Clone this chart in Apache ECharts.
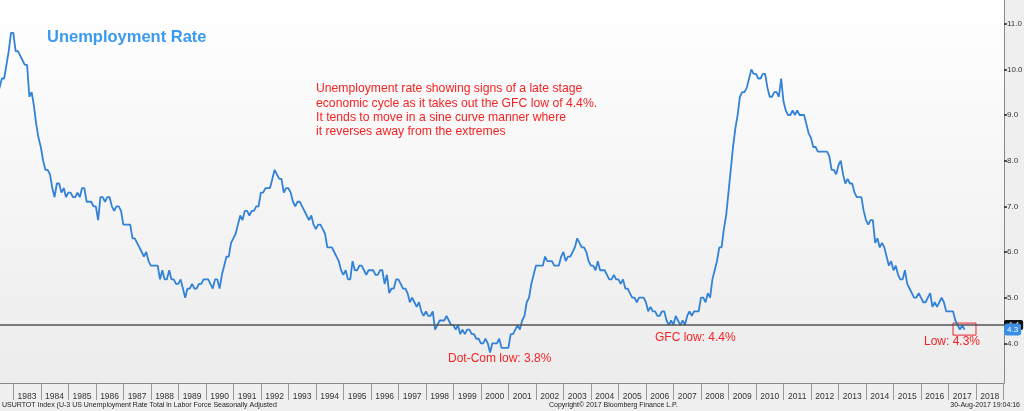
<!DOCTYPE html>
<html>
<head>
<meta charset="utf-8">
<script src="https://cdn.jsdelivr.net/npm/echarts@6/dist/echarts.min.js"></script>
<style>
html,body{margin:0;padding:0;background:#efefef;}
#chart{width:1024px;height:411px;}
</style>
</head>
<body>
<div id="chart"></div>
<script>
// Monthly US U-3 unemployment rate, starting May 1982
const startYear = 1982;
const startMonth = 4; // 0-based: May
const rateValues = [
  9.4, 9.6, 9.8, 9.8, 10.1, 10.4, 10.8, 10.8,
  10.4, 10.4, 10.3, 10.2, 10.1, 10.1, 9.4, 9.5, 9.2, 8.8, 8.5, 8.3,
  8.0, 7.8, 7.8, 7.7, 7.4, 7.2, 7.5, 7.5, 7.3, 7.4, 7.2, 7.3,
  7.3, 7.2, 7.2, 7.3, 7.2, 7.4, 7.4, 7.1, 7.1, 7.1, 7.0, 7.0,
  6.7, 7.2, 7.2, 7.1, 7.2, 7.2, 7.0, 6.9, 7.0, 7.0, 6.9, 6.6,
  6.6, 6.6, 6.6, 6.3, 6.3, 6.2, 6.1, 6.0, 5.9, 6.0, 5.8, 5.7,
  5.7, 5.7, 5.7, 5.4, 5.6, 5.4, 5.4, 5.6, 5.4, 5.4, 5.3, 5.3,
  5.4, 5.2, 5.0, 5.2, 5.2, 5.3, 5.2, 5.2, 5.3, 5.3, 5.4, 5.4,
  5.4, 5.3, 5.2, 5.4, 5.4, 5.2, 5.5, 5.7, 5.9, 5.9, 6.2, 6.3,
  6.4, 6.6, 6.8, 6.7, 6.9, 6.9, 6.8, 6.9, 6.9, 7.0, 7.0, 7.3,
  7.3, 7.4, 7.4, 7.4, 7.6, 7.8, 7.7, 7.6, 7.6, 7.3, 7.4, 7.4,
  7.3, 7.1, 7.0, 7.1, 7.1, 7.0, 6.9, 6.8, 6.7, 6.8, 6.6, 6.5,
  6.6, 6.6, 6.5, 6.4, 6.1, 6.1, 6.1, 6.0, 5.9, 5.8, 5.6, 5.5,
  5.6, 5.4, 5.4, 5.8, 5.6, 5.6, 5.7, 5.7, 5.6, 5.5, 5.6, 5.6,
  5.6, 5.5, 5.5, 5.6, 5.6, 5.3, 5.5, 5.1, 5.2, 5.2, 5.4, 5.4,
  5.3, 5.2, 5.2, 5.1, 4.9, 5.0, 4.9, 4.8, 4.9, 4.7, 4.6, 4.7,
  4.6, 4.6, 4.7, 4.3, 4.4, 4.5, 4.5, 4.5, 4.6, 4.5, 4.4, 4.4,
  4.3, 4.4, 4.2, 4.3, 4.2, 4.3, 4.3, 4.2, 4.2, 4.1, 4.1, 4.0,
  4.0, 4.1, 4.0, 3.8, 4.0, 4.0, 4.0, 4.1, 3.9, 3.9, 3.9, 3.9,
  4.2, 4.2, 4.3, 4.4, 4.3, 4.5, 4.6, 4.9, 5.0, 5.3, 5.5, 5.7,
  5.7, 5.7, 5.7, 5.9, 5.8, 5.8, 5.8, 5.7, 5.7, 5.7, 5.9, 6.0,
  5.8, 5.9, 5.9, 6.0, 6.1, 6.3, 6.2, 6.1, 6.1, 6.0, 5.8, 5.7,
  5.7, 5.6, 5.8, 5.6, 5.6, 5.6, 5.5, 5.4, 5.4, 5.5, 5.4, 5.4,
  5.3, 5.4, 5.2, 5.2, 5.1, 5.0, 5.0, 4.9, 5.0, 5.0, 5.0, 4.9,
  4.7, 4.8, 4.7, 4.7, 4.6, 4.6, 4.7, 4.7, 4.5, 4.4, 4.5, 4.4,
  4.6, 4.5, 4.4, 4.5, 4.4, 4.6, 4.7, 4.6, 4.7, 4.7, 4.7, 5.0,
  5.0, 4.9, 5.1, 5.0, 5.4, 5.6, 5.8, 6.1, 6.1, 6.5, 6.8, 7.3,
  7.8, 8.3, 8.7, 9.0, 9.4, 9.5, 9.5, 9.6, 9.8, 10.0, 9.9, 9.9,
  9.8, 9.8, 9.9, 9.9, 9.6, 9.4, 9.4, 9.5, 9.5, 9.4, 9.8, 9.3,
  9.1, 9.0, 9.0, 9.1, 9.0, 9.1, 9.0, 9.0, 9.0, 8.8, 8.6, 8.5,
  8.3, 8.3, 8.2, 8.2, 8.2, 8.2, 8.2, 8.1, 7.8, 7.8, 7.7, 7.9,
  8.0, 7.7, 7.5, 7.6, 7.5, 7.5, 7.3, 7.2, 7.2, 7.2, 6.9, 6.7,
  6.6, 6.7, 6.7, 6.2, 6.3, 6.1, 6.2, 6.1, 5.9, 5.7, 5.8, 5.6,
  5.7, 5.5, 5.4, 5.4, 5.6, 5.3, 5.2, 5.1, 5.0, 5.0, 5.1, 5.0,
  4.9, 4.9, 5.0, 5.1, 4.8, 4.9, 4.8, 4.9, 5.0, 4.9, 4.7, 4.7,
  4.7, 4.7, 4.5, 4.4, 4.3, 4.4, 4.3
];
const yTickValues = [4, 5, 6, 7, 8, 9, 10, 11];
const xTickYears = [];
for (let y = 1983; y <= 2019; y++) xTickYears.push(y);
const xLabelYears = [];
for (let y = 1983; y <= 2018; y++) xLabelYears.push(y);
const gfcLow = 4.4;
const lastValue = rateValues[rateValues.length - 1];
const lowBox = [[2017.164, 4.444], [2018.0, 4.18]];

// build [x, y] points: plotted at month end
const points = rateValues.map((v, i) => {
  const m = startMonth + i;
  return [startYear + (m + 1) / 12, v];
});

const FONT = 'Liberation Sans';
const chart = echarts.init(document.getElementById('chart'), null, {renderer: 'canvas'});
chart.setOption({
  backgroundColor: '#efefef',
  animation: false,
  grid: {
    left: 0, right: 20, top: 0, bottom: 28,
    outerBoundsMode: 'none',
    containLabel: false,
    show: true, borderWidth: 0,
    backgroundColor: new echarts.graphic.LinearGradient(0, 0, 0, 1, [
      {offset: 0, color: '#ffffff'},
      {offset: 1, color: '#ececec'}
    ])
  },
  xAxis: {
    type: 'value',
    min: 1982.516, max: 2019.018,
    axisLine: {show: true, lineStyle: {color: '#888', width: 1}},
    axisTick: {show: true, customValues: xTickYears, length: 17, lineStyle: {color: '#999'}},
    axisLabel: {
      customValues: xLabelYears.map(y => y + 0.5),
      formatter: v => String(Math.floor(v)),
      fontFamily: FONT, fontSize: 8.5, color: '#333', margin: 9
    },
    splitLine: {show: false}
  },
  yAxis: {
    type: 'value', position: 'right',
    min: 3.131, max: 11.519,
    axisLine: {show: true, lineStyle: {color: '#888', width: 1}},
    axisTick: {show: true, customValues: yTickValues, length: 3, lineStyle: {color: '#222', width: 1.5}},
    axisLabel: {
      customValues: yTickValues,
      formatter: v => v.toFixed(1),
      fontFamily: FONT, fontSize: 8, color: '#333', margin: 3
    },
    splitLine: {show: false}
  },
  series: [{
    type: 'line',
    data: points,
    showSymbol: false,
    symbol: 'none',
    lineStyle: {color: '#3282d8', width: 1.8},
    clip: true,
    markLine: {
      silent: true,
      symbol: ['none', 'none'],
      animation: false,
      data: [
        {
          yAxis: gfcLow,
          lineStyle: {color: '#555', width: 1.5, type: 'solid'},
          label: {
            show: true, position: 'end', distance: 0,
            formatter: gfcLow.toFixed(1),
            backgroundColor: '#111', color: '#fff',
            fontFamily: FONT, fontSize: 8, padding: [1, 4], borderRadius: 2
          }
        },
        {
          yAxis: lastValue,
          lineStyle: {color: 'rgba(0,0,0,0)', width: 0},
          label: {
            show: true, position: 'end', distance: 0,
            formatter: lastValue.toFixed(1),
            backgroundColor: '#3a8ee6', color: '#fff',
            fontFamily: FONT, fontSize: 8, padding: [2, 3], borderRadius: 3
          }
        }
      ]
    },
    markArea: {
      silent: true,
      itemStyle: {color: 'rgba(0,0,0,0)', borderColor: '#e8262a', borderWidth: 1},
      data: [[{coord: lowBox[0]}, {coord: lowBox[1]}]]
    }
  }],
  graphic: [
    {type: 'text', left: 47, top: 29, style: {text: 'Unemployment Rate', fill: '#3a9af0', font: 'bold 16.5px "Liberation Sans"'}},
    {type: 'text', left: 316, top: 82, style: {
      text: 'Unemployment rate showing signs of a late stage\neconomic cycle as it takes out the GFC low of 4.4%.\nIt tends to move in a sine curve manner where\nit reverses away from the extremes',
      fill: '#f52323', font: '12.2px "Liberation Sans"', lineHeight: 14.2
    }},
    {type: 'text', left: 448, top: 353, style: {text: 'Dot-Com low: 3.8%', fill: '#f52323', font: '12px "Liberation Sans"'}},
    {type: 'text', left: 655, top: 332, style: {text: 'GFC low: 4.4%', fill: '#f52323', font: '12px "Liberation Sans"'}},
    {type: 'text', left: 924, top: 336, style: {text: 'Low: 4.3%', fill: '#f52323', font: '12px "Liberation Sans"'}},
    {type: 'text', left: 2, top: 402, style: {text: 'USURTOT Index (U-3 US Unemployment Rate Total in Labor Force Seasonally Adjusted', fill: '#222', font: '7px "Liberation Sans"'}},
    {type: 'text', left: 549, top: 402, style: {text: 'Copyright\u00a9 2017 Bloomberg Finance L.P.', fill: '#222', font: '7px "Liberation Sans"'}},
    {type: 'text', right: 4, top: 402, style: {text: '30-Aug-2017 19:04:16', fill: '#222', font: '7px "Liberation Sans"'}}
  ]
});
</script>
</body>
</html>
